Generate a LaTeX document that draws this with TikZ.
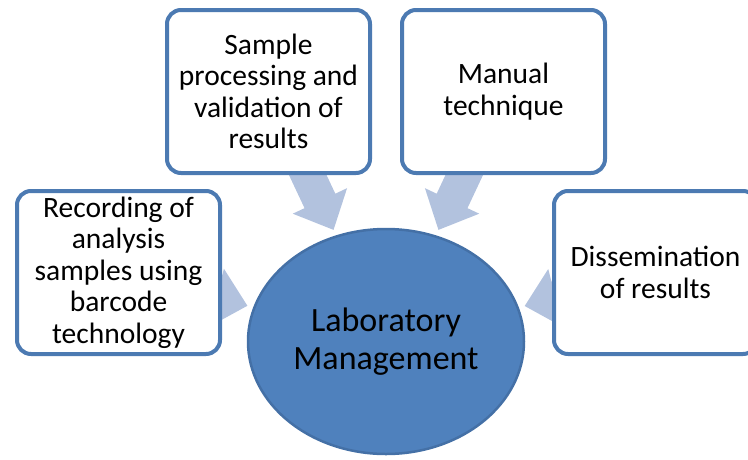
\documentclass[tikz,border=0pt]{standalone}
\usepackage{fontspec}
\setmainfont{Carlito}
\usetikzlibrary{calc,backgrounds,shapes.geometric}
\definecolor{boxblue}{RGB}{76,122,178}
\definecolor{labfill}{RGB}{79,129,189}
\definecolor{labline}{RGB}{68,112,166}
\definecolor{flowblue}{RGB}{178,194,222}
% broad arrow from the centre of #1 to the border of #2
\newcommand\flowarrow[2]{%
  \path (#1.center) -- (#2) coordinate[pos=1] (#1-end);
  \coordinate (#1-tip) at ($(#1-end)!6pt!(#1.center)$);
  \coordinate (#1-base) at ($(#1-tip)!32pt!(#1.center)$);
  \fill [flowblue] (#1-tip) -- ($(#1-base)!30pt!90:(#1-tip)$)
    -- ($(#1-base)!17pt!90:(#1-tip)$) -- ($(#1.center)!17pt!90:(#1-tip)$)
    -- ($(#1.center)!17pt!-90:(#1-tip)$) -- ($(#1-base)!17pt!-90:(#1-tip)$)
    -- ($(#1-base)!30pt!-90:(#1-tip)$) -- cycle;}

\begin{document}
\begin{tikzpicture}[x=1pt,y=1pt,
  taskbox/.style={draw=boxblue,line width=4pt,rounded corners=14pt,fill=white,
    minimum width=203pt,minimum height=163pt,inner sep=0pt,align=center,
    font=\fontsize{29.5}{31.5}\selectfont},
  labnode/.style={ellipse,draw=labline,line width=2.5pt,fill=labfill,
    minimum width=276pt,minimum height=225pt,inner sep=0pt,align=center,
    font=\fontsize{34}{37.5}\selectfont}]
\useasboundingbox (0,0) rectangle (748,-459);
% outer nodes
\node [taskbox] (sample) at (268.5,-91.5) {Sample\\processing and\\validation of\\results};
\node [taskbox] (manual) at (503.5,-91.5) {Manual\\technique};
\node [taskbox] (record) at (118.5,-272.5) {Recording of\\analysis\\samples using\\barcode\\technology};
\node [taskbox] (dissem) at (655.5,-272.5) {Dissemination\\of results};
% centre
\node [labnode] (lab) at (386,-341.5) {Laboratory\\Management};
% arrows behind the boxes
\begin{scope}[on background layer]
\flowarrow{sample}{lab}
\flowarrow{manual}{lab}
\flowarrow{record}{lab}
\flowarrow{dissem}{lab}
\end{scope}
\end{tikzpicture}
\end{document}
